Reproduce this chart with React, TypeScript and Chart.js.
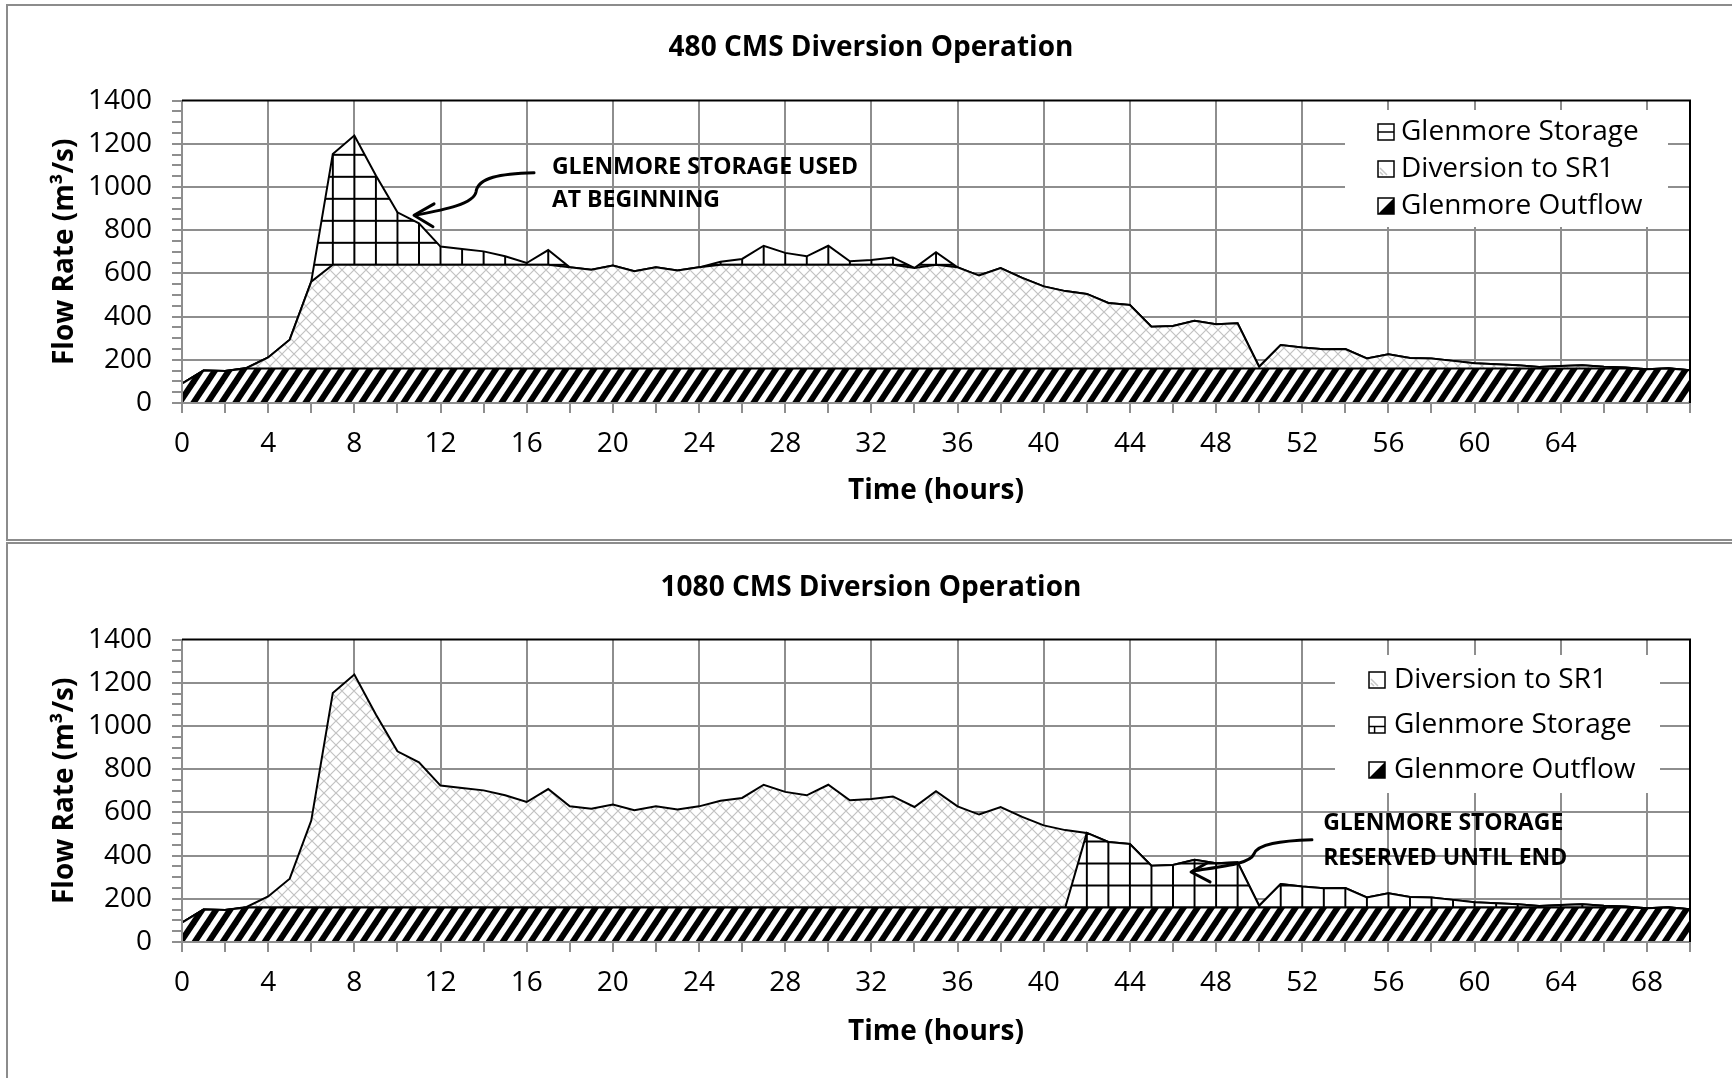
import React, { useEffect, useRef } from 'react';
import { Chart, registerables } from 'chart.js';

Chart.register(...registerables);

const FONT = "'Open Sans', 'DejaVu Sans', sans-serif";
const GRID = '#8e8e8e';

// ---------------- data ----------------
const HOURS = [
  0, 1, 2, 3, 4, 5, 6, 7, 8, 9, 10, 11, 12, 13, 14, 15, 16, 17, 18, 19,
  20, 21, 22, 23, 24, 25, 26, 27, 28, 29, 30, 31, 32, 33, 34, 35, 36, 37, 38, 39,
  40, 41, 42, 43, 44, 45, 46, 47, 48, 49, 50, 51, 52, 53, 54, 55, 56, 57, 58, 59,
  60, 61, 62, 63, 64, 65, 66, 67, 68, 69, 70,
];

const GLENMORE_OUTFLOW = [
  90, 150, 148, 160, 160, 160, 160, 160, 160, 160,
  160, 160, 160, 160, 160, 160, 160, 160, 160, 160,
  160, 160, 160, 160, 160, 160, 160, 160, 160, 160,
  160, 160, 160, 160, 160, 160, 160, 160, 160, 160,
  160, 160, 160, 160, 160, 160, 160, 160, 160, 160,
  160, 160, 160, 160, 160, 160, 160, 160, 160, 160,
  160, 160, 160, 160, 160, 160, 160, 160, 156, 160,
  152,
];

const DIVERSION_480 = [
  0, 0, 0, 2, 51, 133, 402, 480, 480, 480,
  480, 480, 480, 480, 480, 480, 480, 480, 468, 457,
  476, 450, 468, 453, 468, 480, 480, 480, 480, 480,
  480, 480, 480, 480, 465, 480, 468, 430, 465, 419,
  380, 358, 345, 303, 294, 193, 197, 221, 205, 209,
  8, 108, 97, 89, 90, 46, 66, 48, 46, 35,
  24, 19, 15, 7, 11, 15, 8, 4, 0, 1,
  0,
];

const STORAGE_480 = [
  0, 0, 0, 0, 0, 0, 0, 513, 598, 413,
  243, 192, 84, 73, 62, 39, 8, 68, 0, 0,
  0, 0, 0, 0, 0, 14, 27, 88, 55, 39,
  88, 16, 22, 34, 0, 58, 0, 0, 0, 0,
  0, 0, 0, 0, 0, 0, 0, 0, 0, 0,
  0, 0, 0, 0, 0, 0, 0, 0, 0, 0,
  0, 0, 0, 0, 0, 0, 0, 0, 0, 0,
  0,
];

const DIVERSION_1080 = [
  0, 0, 0, 2, 51, 133, 402, 993, 1078, 893,
  723, 672, 564, 553, 542, 519, 488, 548, 468, 457,
  476, 450, 468, 453, 468, 494, 507, 568, 535, 519,
  568, 496, 502, 514, 465, 538, 468, 430, 465, 419,
  380, 358, 0, 0, 0, 0, 0, 0, 0, 0,
  0, 0, 0, 0, 0, 0, 0, 0, 0, 0,
  0, 0, 0, 0, 0, 0, 0, 0, 0, 0,
  0,
];

const STORAGE_1080 = [
  0, 0, 0, 0, 0, 0, 0, 0, 0, 0,
  0, 0, 0, 0, 0, 0, 0, 0, 0, 0,
  0, 0, 0, 0, 0, 0, 0, 0, 0, 0,
  0, 0, 0, 0, 0, 0, 0, 0, 0, 0,
  0, 0, 345, 303, 294, 193, 197, 221, 205, 209,
  8, 108, 97, 89, 90, 46, 66, 48, 46, 35,
  24, 19, 15, 7, 11, 15, 8, 4, 0, 1,
  0,
];

const X_TICK_LABELS_480 = [0, 4, 8, 12, 16, 20, 24, 28, 32, 36, 40, 44, 48, 52, 56, 60, 64];
const X_TICK_LABELS_1080 = [0, 4, 8, 12, 16, 20, 24, 28, 32, 36, 40, 44, 48, 52, 56, 60, 64, 68];
const Y_TICK_LABELS = [0, 200, 400, 600, 800, 1000, 1200, 1400];

const NOTE_480 = ['GLENMORE STORAGE USED', 'AT BEGINNING'];
const NOTE_1080 = ['GLENMORE STORAGE', 'RESERVED UNTIL END'];

// ---------------- patterns ----------------
type Kind = 'outflow' | 'diversion' | 'storage';

function makePatterns(ctx: CanvasRenderingContext2D) {
  const tile = (w: number, h: number, draw: (g: CanvasRenderingContext2D) => void) => {
    const c = document.createElement('canvas');
    c.width = w;
    c.height = h;
    const g = c.getContext('2d')!;
    g.fillStyle = '#fff';
    g.fillRect(0, 0, w, h);
    draw(g);
    return c;
  };
  const stripes = ctx.createPattern(
    tile(14, 21, (g) => {
      g.strokeStyle = '#000';
      g.lineWidth = 6;
      for (const dx of [-14, 0, 14]) {
        g.beginPath();
        g.moveTo(dx - 14, 42);
        g.lineTo(dx + 28, -21);
        g.stroke();
      }
    }),
    'repeat'
  )!;
  const cross = ctx.createPattern(
    tile(12, 12, (g) => {
      g.strokeStyle = '#c2c2c2';
      g.lineWidth = 1.2;
      g.beginPath();
      g.moveTo(-12, -12);
      g.lineTo(24, 24);
      g.moveTo(-12, 24);
      g.lineTo(24, -12);
      g.stroke();
    }),
    'repeat'
  )!;
  const grid = ctx.createPattern(
    tile(22, 22, (g) => {
      g.fillStyle = '#000';
      g.fillRect(0, 0, 22, 2);
      g.fillRect(0, 0, 2, 22);
    }),
    'repeat'
  )!;
  return { stripes, cross, grid };
}

// ---------------- chart specs ----------------
type Series = { label: string; data: number[]; kind: Kind };
type Spec = {
  title: string;
  series: Series[]; // bottom -> top
  xTickLabels: number[];
  storageBase: number;
  height: number;
  top: number;
  titlePad: { top: number; bottom: number };
  xAxisHeight: number;
  xTitlePad: number;
  legend: { x0: number; y0: number; x1: number; y1: number; iconX: number; textX: number; rows: number[]; gridIcon: boolean };
  note: {
    lines: string[];
    textAt: [number, number][];
    path: [number, number][]; // start, c1, c2, p, c3, c4, end
    head: [number, number][]; // arm1, tip, arm2
  };
};

const SPECS: Spec[] = [
  {
    title: '480 CMS Diversion Operation',
    series: [
      { label: 'Glenmore Outflow', data: GLENMORE_OUTFLOW, kind: 'outflow' },
      { label: 'Diversion to SR1', data: DIVERSION_480, kind: 'diversion' },
      { label: 'Glenmore Storage', data: STORAGE_480, kind: 'storage' },
    ],
    xTickLabels: X_TICK_LABELS_480,
    storageBase: 640,
    height: 541,
    top: 0,
    titlePad: { top: 31.5, bottom: 35.5 },
    xAxisHeight: 138,
    xTitlePad: 33,
    legend: { x0: 1345, y0: 110, x1: 1668, y1: 227, iconX: 1378, textX: 1401, rows: [132, 169, 206], gridIcon: false },
    note: {
      lines: NOTE_480,
      textAt: [[17.17, 1089], [17.17, 936]],
      path: [[16.34, 1066], [14.76, 1062], [13.74, 1043], [13.65, 978], [13.55, 922], [12.21, 895], [10.91, 871]],
      head: [[11.7, 922], [10.77, 869], [11.65, 816]],
    },
  },
  {
    title: '1080 CMS Diversion Operation',
    series: [
      { label: 'Glenmore Outflow', data: GLENMORE_OUTFLOW, kind: 'outflow' },
      { label: 'Glenmore Storage', data: STORAGE_1080, kind: 'storage' },
      { label: 'Diversion to SR1', data: DIVERSION_1080, kind: 'diversion' },
    ],
    xTickLabels: X_TICK_LABELS_1080,
    storageBase: 160,
    height: 537,
    top: 541,
    titlePad: { top: 30.5, bottom: 34.5 },
    xAxisHeight: 136,
    xTitlePad: 29.5,
    legend: { x0: 1335, y0: 114, x1: 1660, y1: 252, iconX: 1369, textX: 1394, rows: [139, 184, 229], gridIcon: true },
    note: {
      lines: NOTE_1080,
      textAt: [[52.97, 547], [52.97, 385]],
      path: [[52.45, 473], [50.97, 468], [49.95, 454], [49.76, 408], [49.58, 362], [48.41, 352], [46.93, 329]],
      head: [[47.58, 366], [46.84, 324], [47.72, 278]],
    },
  },
];

function drawIcon(ctx: CanvasRenderingContext2D, kind: Kind, x: number, y: number, s: number, gridIcon: boolean) {
  ctx.save();
  ctx.fillStyle = '#fff';
  ctx.fillRect(x, y, s, s);
  ctx.lineWidth = 1.5;
  ctx.strokeStyle = '#000';
  if (kind === 'outflow') {
    ctx.fillStyle = '#000';
    ctx.beginPath();
    ctx.moveTo(x, y + s);
    ctx.lineTo(x + s, y);
    ctx.lineTo(x + s, y + s);
    ctx.closePath();
    ctx.fill();
  } else if (kind === 'diversion') {
    ctx.strokeStyle = '#c8c8c8';
    ctx.beginPath();
    ctx.moveTo(x + 2, y + s - 5);
    ctx.lineTo(x + 5, y + s - 2);
    ctx.moveTo(x + 2, y + s - 9);
    ctx.lineTo(x + 9, y + s - 2);
    ctx.stroke();
    ctx.strokeStyle = '#000';
  } else {
    ctx.beginPath();
    if (gridIcon) {
      ctx.moveTo(x, y + s * 0.6);
      ctx.lineTo(x + s, y + s * 0.6);
      ctx.moveTo(x + s * 0.35, y + s * 0.6);
      ctx.lineTo(x + s * 0.35, y + s);
    } else {
      ctx.moveTo(x, y + s / 2);
      ctx.lineTo(x + s, y + s / 2);
    }
    ctx.stroke();
  }
  ctx.strokeRect(x, y, s, s);
  ctx.restore();
}

function FlowChart({ spec }: { spec: Spec }) {
  const ref = useRef<HTMLCanvasElement>(null);
  useEffect(() => {
    const canvas = ref.current!;
    const ctx = canvas.getContext('2d')!;
    const pats = makePatterns(ctx);
    const fillFor = (k: Kind) => (k === 'outflow' ? pats.stripes : k === 'diversion' ? pats.cross : pats.grid);

    const decor = {
      id: 'decor',
      beforeDatasetsDraw(chart: any) {
        const xs = chart.scales.x;
        const ys = chart.scales.y;
        const x0 = xs.getPixelForValue(0);
        const a = (xs.getPixelForValue(1) - x0) / 22;
        const yb = ys.getPixelForValue(spec.storageBase);
        pats.grid.setTransform(new DOMMatrix([a, 0, 0, 1, x0 - a, yb - 1]));
      },
      afterDatasetsDraw(chart: any) {
        const c = chart.ctx;
        const ca = chart.chartArea;
        c.save();
        c.lineWidth = 2;
        c.strokeStyle = GRID;
        c.beginPath();
        c.moveTo(ca.left, ca.top);
        c.lineTo(ca.left, ca.bottom);
        c.lineTo(ca.right, ca.bottom);
        c.stroke();
        c.strokeStyle = '#000';
        c.beginPath();
        c.moveTo(ca.left, ca.top);
        c.lineTo(ca.right, ca.top);
        c.lineTo(ca.right, ca.bottom);
        c.stroke();
        c.restore();
      },
      afterDraw(chart: any) {
        const c = chart.ctx as CanvasRenderingContext2D;
        const xs = chart.scales.x;
        const ys = chart.scales.y;
        const P = (p: [number, number]) => [xs.getPixelForValue(p[0]), ys.getPixelForValue(p[1])] as [number, number];
        // legend
        const L = spec.legend;
        c.save();
        c.fillStyle = '#fff';
        c.fillRect(L.x0, L.y0, L.x1 - L.x0, L.y1 - L.y0);
        const items = [...chart.data.datasets].reverse();
        items.forEach((ds: any, i: number) => {
          const cy = L.rows[i];
          drawIcon(c, ds.kind, L.iconX, cy - 8, 16, L.gridIcon);
          c.fillStyle = '#000';
          c.font = `28px ${FONT}`;
          c.textBaseline = 'middle';
          c.textAlign = 'left';
          c.fillText(ds.label, L.textX, cy);
        });
        // annotation
        const N = spec.note;
        c.font = `bold 23px ${FONT}`;
        c.fillStyle = '#000';
        c.textBaseline = 'middle';
        c.textAlign = 'left';
        N.lines.forEach((t, i) => {
          const [px, py] = P(N.textAt[i]);
          c.fillText(t, px, py);
        });
        const pts = N.path.map(P);
        c.strokeStyle = '#000';
        c.lineWidth = 3;
        c.lineCap = 'round';
        c.lineJoin = 'round';
        c.beginPath();
        c.moveTo(pts[0][0], pts[0][1]);
        c.bezierCurveTo(pts[1][0], pts[1][1], pts[2][0], pts[2][1], pts[3][0], pts[3][1]);
        c.bezierCurveTo(pts[4][0], pts[4][1], pts[5][0], pts[5][1], pts[6][0], pts[6][1]);
        c.stroke();
        const hd = N.head.map(P);
        c.beginPath();
        c.moveTo(hd[0][0], hd[0][1]);
        c.lineTo(hd[1][0], hd[1][1]);
        c.lineTo(hd[2][0], hd[2][1]);
        c.stroke();
        c.restore();
      },
    };

    const chart = new Chart(ctx, {
      type: 'line',
      data: {
        datasets: spec.series.map((s, i) => ({
          label: s.label,
          kind: s.kind,
          data: HOURS.map((h, j) => ({ x: h, y: s.data[j] })),
          fill: i === 0 ? 'origin' : '-1',
          backgroundColor: fillFor(s.kind),
          borderColor: '#000',
          borderWidth: 2,
          pointRadius: 0,
          tension: 0,
        })) as any,
      },
      options: {
        animation: false,
        responsive: false,
        events: [],
        layout: { padding: { left: 10, right: 0, top: 0, bottom: 0 } },
        plugins: {
          legend: { display: false },
          tooltip: { enabled: false },
          title: {
            display: true,
            text: spec.title,
            color: '#000',
            font: { family: FONT, size: 28, weight: 'bold' },
            padding: spec.titlePad,
          },
        },
        scales: {
          x: {
            type: 'linear',
            min: 0,
            max: 70,
            ticks: {
              stepSize: 2,
              maxTicksLimit: 100,
              autoSkip: false,
              maxRotation: 0,
              minRotation: 0,
              padding: 14,
              color: '#000',
              font: { family: FONT, size: 28 },
              callback: (v: any) => (spec.xTickLabels.includes(Number(v)) ? String(v) : ''),
            },
            grid: {
              color: (c: any) => {
                const v = c.tick ? c.tick.value : -1;
                return v % 4 === 0 && v > 0 && v < 70 ? GRID : 'rgba(0,0,0,0)';
              },
              lineWidth: 2,
              tickLength: 10,
              tickColor: GRID,
              tickWidth: 2,
            },
            border: { display: true, color: GRID, width: 2 },
            title: {
              display: true,
              text: 'Time (hours)',
              color: '#000',
              font: { family: FONT, size: 28, weight: 'bold' },
              padding: { top: 0, bottom: spec.xTitlePad },
            },
            afterFit: (s: any) => {
              s.height = spec.xAxisHeight;
            },
          },
          y: {
            type: 'linear',
            stacked: true,
            min: 0,
            max: 1400,
            ticks: {
              stepSize: 50,
              maxTicksLimit: 100,
              autoSkip: false,
              padding: 20,
              color: '#000',
              font: { family: FONT, size: 28 },
              callback: (v: any) => (Y_TICK_LABELS.includes(Number(v)) ? String(v) : ''),
            },
            grid: {
              color: (c: any) => {
                const v = c.tick ? c.tick.value : -1;
                return v % 200 === 0 && v > 0 && v < 1400 ? GRID : 'rgba(0,0,0,0)';
              },
              lineWidth: 2,
              tickLength: 10,
              tickColor: GRID,
              tickWidth: 2,
            },
            border: { display: true, color: GRID, width: 2 },
            title: {
              display: true,
              text: 'Flow Rate (m³/s)',
              color: '#000',
              font: { family: FONT, size: 28, weight: 'bold' },
              padding: { top: 38, bottom: 0 },
            },
            afterFit: (s: any) => {
              s.width = 172;
            },
          },
          yR: {
            type: 'linear',
            position: 'right',
            display: true,
            grid: { display: false, drawTicks: false },
            ticks: { display: false },
            border: { display: false },
            afterFit: (s: any) => {
              s.width = 42;
            },
          },
        },
      } as any,
      plugins: [decor],
    });
    return () => chart.destroy();
  }, [spec]);
  return (
    <canvas
      ref={ref}
      width={1732}
      height={spec.height}
      style={{ position: 'absolute', left: 0, top: spec.top, width: 1732, height: spec.height }}
    />
  );
}

export default function App() {
  useEffect(() => {
    document.body.style.margin = '0';
    document.body.style.overflow = 'hidden';
  }, []);
  return (
    <div style={{ position: 'absolute', left: 0, top: 0, width: 1732, height: 1078, overflow: 'hidden', background: '#fff' }}>
      <FlowChart spec={SPECS[0]} />
      <FlowChart spec={SPECS[1]} />
      <div
        style={{
          position: 'absolute', left: 6, top: 4, width: 1740, height: 537,
          border: '2px solid #8c8c8c', boxSizing: 'border-box', pointerEvents: 'none',
        }}
      />
      <div
        style={{
          position: 'absolute', left: 6, top: 542, width: 1740, height: 545,
          border: '2px solid #8c8c8c', boxSizing: 'border-box', pointerEvents: 'none',
        }}
      />
    </div>
  );
}
